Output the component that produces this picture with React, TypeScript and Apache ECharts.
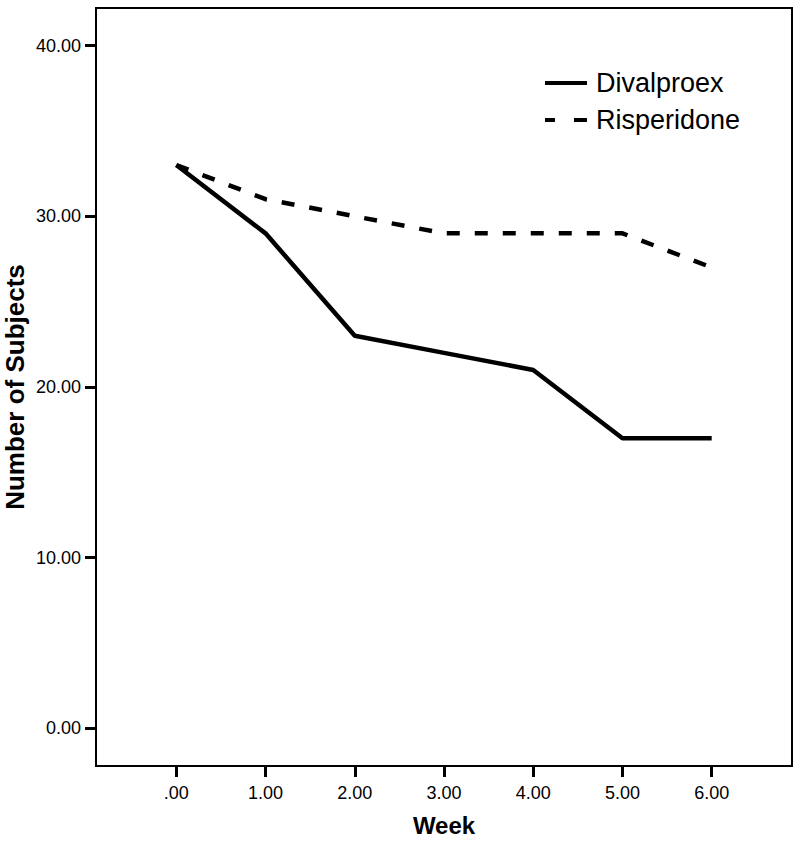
import React, { useEffect, useRef } from "react";
import * as echarts from "echarts";

const weeks = [0, 1, 2, 3, 4, 5, 6];
const divalproex = [33, 29, 23, 22, 21, 17, 17];
const risperidone = [33, 31, 30, 29, 29, 29, 27];
const yTicks = [0, 10, 20, 30, 40];
const xTicks = [0, 1, 2, 3, 4, 5, 6];
const seriesNames = ["Divalproex", "Risperidone"];

const FONT = "'Liberation Sans', Arial, sans-serif";

export default function App() {
  const ref = useRef<HTMLDivElement>(null);
  useEffect(() => {
    if (!ref.current) return;
    const chart = echarts.init(ref.current, null, { renderer: "svg" });
    const fmtX = (v: number) => (v === 0 ? ".00" : v.toFixed(2));
    chart.setOption({
      animation: false,
      backgroundColor: "#ffffff",
      textStyle: { fontFamily: FONT },
      grid: {
        left: 96,
        top: 8,
        right: 8,
        bottom: 75,
        outerBoundsMode: "none",
        containLabel: false,
        show: true,
        borderColor: "#000",
        borderWidth: 2,
        backgroundColor: "transparent",
      },
      legend: {
        orient: "vertical",
        left: 545,
        top: 69.5,
        padding: 0,
        itemWidth: 42,
        itemHeight: 4,
        itemGap: 10,
        selectedMode: false,
        data: [
          { name: seriesNames[0], icon: "path://M0,0H42V4H0Z" },
          { name: seriesNames[1], icon: "path://M0,0H10V4H0Z M29,0H42V4H29Z" },
        ],
        itemStyle: { color: "#000" },
        textStyle: {
          fontFamily: FONT,
          fontSize: 27,
          color: "#000",
          lineHeight: 27,
          padding: [0, 0, 0, 4],
        },
      },
      xAxis: {
        type: "value",
        min: -0.9,
        max: 6.9,
        name: "Week",
        nameLocation: "middle",
        nameGap: 47,
        nameMoveOverlap: false,
        nameTextStyle: { fontFamily: FONT, fontSize: 24, fontWeight: "bold", color: "#000" },
        axisLine: { show: true, onZero: false, lineStyle: { color: "#000", width: 2 } },
        axisTick: { show: true, length: 11, customValues: xTicks, lineStyle: { color: "#000", width: 3 } },
        axisLabel: {
          customValues: xTicks,
          margin: 18,
          fontFamily: FONT,
          fontSize: 18,
          color: "#000",
          formatter: (v: number) => fmtX(v),
        },
        splitLine: { show: false },
      },
      yAxis: {
        type: "value",
        min: -2.2,
        max: 42.2,
        name: "Number of Subjects",
        nameLocation: "middle",
        nameGap: 68,
        nameMoveOverlap: false,
        nameRotate: 90,
        nameTextStyle: { fontFamily: FONT, fontSize: 26, lineHeight: 26, fontWeight: "bold", color: "#000" },
        axisLine: { show: true, onZero: false, lineStyle: { color: "#000", width: 2 } },
        axisTick: { show: true, length: 11, customValues: yTicks, lineStyle: { color: "#000", width: 3 } },
        axisLabel: {
          customValues: yTicks,
          margin: 15,
          fontFamily: FONT,
          fontSize: 18,
          color: "#000",
          formatter: (v: number) => v.toFixed(2),
        },
        splitLine: { show: false },
      },
      series: [
        {
          name: seriesNames[0],
          type: "line",
          symbol: "none",
          data: weeks.map((w, i) => [w, divalproex[i]]),
          lineStyle: { color: "#000", width: 4.5, type: "solid" },
          itemStyle: { color: "#000" },
        },
        {
          name: seriesNames[1],
          type: "line",
          symbol: "none",
          data: weeks.map((w, i) => [w, risperidone[i]]),
          lineStyle: { color: "#000", width: 4.5, type: [13, 15] },
          itemStyle: { color: "#000" },
        },
      ],
    });
    return () => chart.dispose();
  }, []);
  return (
    <div
      ref={ref}
      style={{ position: "absolute", left: 0, top: 0, width: 800, height: 841 }}
    />
  );
}
